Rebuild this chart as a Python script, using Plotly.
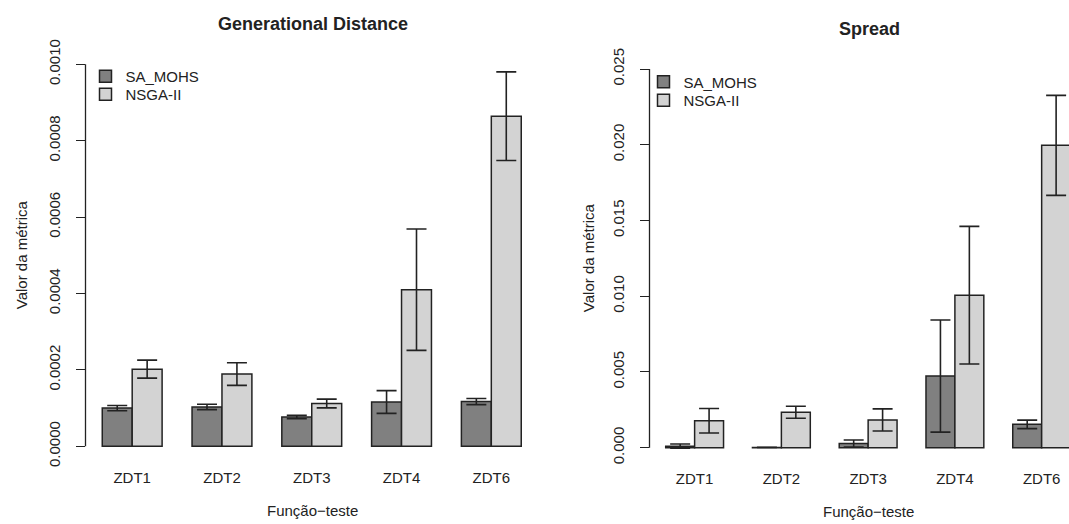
import plotly.graph_objects as go

# Benchmark problems and algorithms
problems = ["ZDT1", "ZDT2", "ZDT3", "ZDT4", "ZDT6"]
algorithms = ["SA_MOHS", "NSGA-II"]

# Generational Distance: mean and standard deviation per problem
gd_sa_mean = [0.000100, 0.000103, 0.0000765, 0.000116, 0.000117]
gd_sa_sd = [0.0000068, 0.0000069, 0.0000045, 0.0000297, 0.0000080]
gd_ns_mean = [0.000202, 0.000189, 0.000112, 0.000410, 0.000864]
gd_ns_sd = [0.0000235, 0.0000295, 0.0000115, 0.000159, 0.000116]

# Spread: mean and standard deviation per problem
sp_sa_mean = [0.00010, 0.00002, 0.00028, 0.00473, 0.00154]
sp_sa_sd = [0.00014, 0.0, 0.00023, 0.00370, 0.00028]
sp_ns_mean = [0.00178, 0.00234, 0.00183, 0.01007, 0.01996]
sp_ns_sd = [0.00081, 0.00040, 0.00073, 0.00454, 0.00330]

# Tick values of the metric axes
gd_ticks = [0.0, 0.0002, 0.0004, 0.0006, 0.0008, 0.0010]
sp_ticks = [0.0, 0.005, 0.010, 0.015, 0.020, 0.025]

W, H = 1069, 524
FONT = "Liberation Sans, Arial, Helvetica, sans-serif"
INK = "#222222"
COLORS = ["#808080", "#d3d3d3"]

# barplot(beside=TRUE) layout: bars of width 1, one empty unit before each group
n = len(problems)
sa_x = [1.5 + 3 * i for i in range(n)]
ns_x = [2.5 + 3 * i for i in range(n)]
group_x = [2.0 + 3 * i for i in range(n)]

fig = go.Figure()


def add_panel(means, sds, xs, name, color, xa, ya, legend):
    fig.add_trace(go.Bar(
        x=xs, y=means, width=1.0, name=name,
        marker=dict(color=color, line=dict(color=INK, width=1.5)),
        error_y=dict(type="data", array=sds, symmetric=True,
                     color=INK, thickness=1.6, width=10),
        xaxis=xa, yaxis=ya, legend=legend,
    ))


add_panel(gd_sa_mean, gd_sa_sd, sa_x, algorithms[0], COLORS[0], "x", "y", "legend")
add_panel(gd_ns_mean, gd_ns_sd, ns_x, algorithms[1], COLORS[1], "x", "y", "legend2")
add_panel(sp_sa_mean, sp_sa_sd, sa_x, algorithms[0], COLORS[0], "x2", "y2", "legend3")
add_panel(sp_ns_mean, sp_ns_sd, ns_x, algorithms[1], COLORS[1], "x2", "y2", "legend4")


def px_x(p):
    return p / W


def px_y(p):
    return 1 - p / H


tickfont = dict(family=FONT, size=15, color=INK)

xaxis_common = dict(
    tickmode="array", tickvals=group_x, ticktext=problems,
    showline=False, showgrid=False, zeroline=False, ticks="",
    tickfont=tickfont, fixedrange=True, ticklabelstandoff=5,
)
yaxis_common = dict(
    tickmode="array", showline=False, showgrid=False, zeroline=False,
    ticks="outside", ticklen=9, tickwidth=1.3, tickcolor=INK,
    tickangle=-90, tickfont=tickfont, fixedrange=True, ticklabelstandoff=10,
)

gd_top = gd_ticks[-1]
sp_top = sp_ticks[-1]


def legend_at(x, y):
    return dict(x=px_x(x), y=px_y(y), xanchor="left", yanchor="top",
                bgcolor="rgba(0,0,0,0)", borderwidth=0,
                font=dict(family=FONT, size=15, color=INK),
                itemclick=False, itemdoubleclick=False)


fig.update_layout(
    width=W, height=H,
    margin=dict(l=0, r=0, t=0, b=0),
    paper_bgcolor="white", plot_bgcolor="white",
    barmode="overlay",
    font=dict(family=FONT, size=15, color=INK),
    xaxis=dict(xaxis_common, domain=[px_x(85.5), px_x(538)], range=[0.44, 15.56], anchor="y"),
    yaxis=dict(yaxis_common, domain=[px_y(465), px_y(41.1)],
               range=[-0.04 * gd_top, 1.04 * gd_top],
               tickvals=gd_ticks, tickformat=".4f", anchor="x"),
    xaxis2=dict(xaxis_common, domain=[px_x(649.5), 1.0],
                range=[0.44, 0.44 + (W - 649.5) / 28.92], anchor="y2"),
    yaxis2=dict(yaxis_common, domain=[px_y(466.3), px_y(46.1)],
                range=[-0.04 * sp_top, 1.04 * sp_top],
                tickvals=sp_ticks, tickformat=".3f", anchor="x2"),
    legend=legend_at(85.5, 52.5),
    legend2=legend_at(85.5, 71),
    legend3=legend_at(643.5, 58),
    legend4=legend_at(643.5, 77),
    showlegend=True,
)

# Axis lines spanning only the labelled tick range
fig.add_shape(type="line", xref="x domain", yref="y", x0=0, x1=0, y0=0, y1=gd_top,
              line=dict(color=INK, width=1.3))
fig.add_shape(type="line", xref="x2 domain", yref="y2", x0=0, x1=0, y0=0, y1=sp_top,
              line=dict(color=INK, width=1.3))

# Titles and axis labels
texts = [
    ("<b>Generational Distance</b>", 312.5, 15.5, 18, 0),
    ("<b>Spread</b>", 869, 20.5, 18, 0),
    ("Valor da métrica", 21, 253, 15, -90),
    ("Valor da métrica", 588, 256, 15, -90),
    ("Função−teste", 312, 515, 15, 0),
    ("Função−teste", 868.5, 516.5, 15, 0),
]
for txt, x, y, size, ang in texts:
    fig.add_annotation(
        text=txt, xref="paper", yref="paper", x=px_x(x), y=px_y(y),
        xanchor="center", yanchor="middle", showarrow=False, textangle=ang,
        font=dict(family=FONT, size=size, color=INK),
    )

fig.write_html("out.html", config={"displayModeBar": False})
